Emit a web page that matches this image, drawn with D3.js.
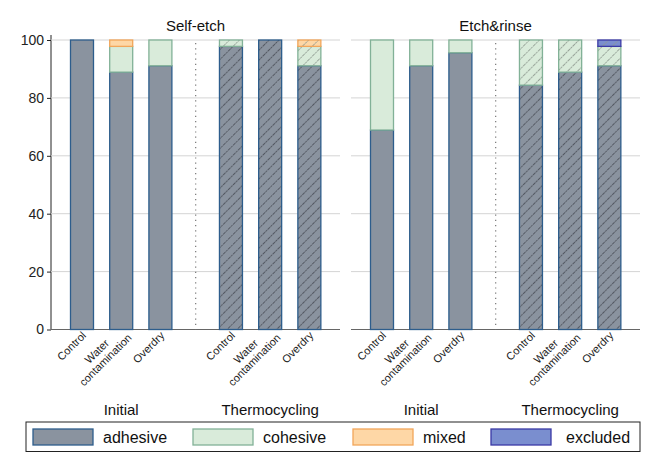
<!DOCTYPE html>
<html><head><meta charset="utf-8">
<script src="https://cdn.jsdelivr.net/npm/d3@7"></script>
<style>body{margin:0;background:#fff}svg{font-family:Arial,"Liberation Sans",sans-serif}</style>
</head><body><svg id="c" width="661" height="472"></svg>
<script>
const panels = ["Self-etch", "Etch&rinse"];
const phases = ["Initial", "Thermocycling"];
const groups = ["Control", "Water\ncontamination", "Overdry"];
const modes = ["adhesive", "cohesive", "mixed", "excluded"];
// values per panel, per phase, per group: [adhesive, cohesive, mixed, excluded] (%)
const selfEtchInitial = [[100, 0, 0, 0], [88.9, 8.9, 2.2, 0], [91.1, 8.9, 0, 0]];
const selfEtchThermo  = [[97.8, 2.2, 0, 0], [100, 0, 0, 0], [91.1, 6.7, 2.2, 0]];
const etchRinseInitial = [[68.9, 31.1, 0, 0], [91.1, 8.9, 0, 0], [95.6, 4.4, 0, 0]];
const etchRinseThermo  = [[84.4, 15.6, 0, 0], [88.9, 11.1, 0, 0], [91.1, 6.7, 0, 2.2]];
const yTicks = [0, 20, 40, 60, 80, 100];

const fills = {adhesive: "#8a939f", cohesive: "#d9ebda", mixed: "#fed7a6", excluded: "#7a8ecf"};
const strokes = {adhesive: "#2d5d8c", cohesive: "#82b197", mixed: "#f2a65a", excluded: "#3b3aa6"};

const data = [[selfEtchInitial, selfEtchThermo], [etchRinseInitial, etchRinseThermo]];

const svg = d3.select("#c");
const defs = svg.append("defs");
modes.forEach(m => {
  const p = defs.append("pattern").attr("id", "h-" + m).attr("patternUnits", "userSpaceOnUse")
    .attr("width", 7).attr("height", 7).attr("patternTransform", "rotate(45)");
  p.append("rect").attr("width", 7).attr("height", 7).attr("fill", fills[m]);
  p.append("line").attr("x1", 0).attr("y1", 0).attr("x2", 0).attr("y2", 7)
    .attr("stroke", m === "adhesive" ? "#4a4f58" : "#8e998f").attr("stroke-width", 2)
    .attr("stroke-dasharray", "2,0.7").attr("opacity", 0.85);
});

const y = d3.scaleLinear().domain([0, 100]).range([329.5, 40]);
const panelX = [51, 351];
const panelW = 289;
const slots = [0, 1, 2, 3.8, 4.8, 5.8];
const xs = d3.scaleLinear().domain([-31 / 39.2, (panelW - 31) / 39.2]).range([0, panelW]);
const barW = 23;

// y axis
const yAxis = svg.append("g").attr("transform", "translate(51,0)")
  .call(d3.axisLeft(y).tickValues(yTicks).tickSize(4).tickPadding(3));
yAxis.select(".domain").attr("d", "M0,35V329.5").attr("stroke", "#222");
yAxis.selectAll(".tick line").attr("stroke", "#222");
yAxis.selectAll(".tick text").attr("font-size", 14).attr("fill", "#222").attr("font-family", "Arial, 'Liberation Sans', sans-serif");

panels.forEach((pn, pi) => {
  const g = svg.append("g").attr("transform", `translate(${panelX[pi]},0)`);
  // grid
  g.selectAll(".grid").data(yTicks.filter(t => t > 0)).join("line")
    .attr("x1", 0).attr("x2", panelW).attr("y1", d => y(d)).attr("y2", d => y(d))
    .attr("stroke", "#d4d4d4").attr("stroke-width", 1);
  // x axis line
  g.append("line").attr("x1", 0).attr("x2", panelW).attr("y1", y(0)).attr("y2", y(0))
    .attr("stroke", "#666").attr("stroke-width", 1.2);
  // dotted separator
  const sepX = xs((slots[2] + slots[3]) / 2);
  g.append("line").attr("x1", sepX).attr("x2", sepX).attr("y1", y(100) + 3).attr("y2", y(0))
    .attr("stroke", "#777").attr("stroke-width", 1.2).attr("stroke-dasharray", "1.2,4");
  // title
  g.append("text").attr("x", panelW / 2).attr("y", 31).attr("text-anchor", "middle")
    .attr("font-size", 15).attr("fill", "#111").text(pn);

  data[pi].forEach((phaseData, phi) => {
    phaseData.forEach((vals, gi) => {
      const cx = xs(slots[phi * 3 + gi]);
      let acc = 0;
      vals.forEach((v, mi) => {
        if (v <= 0) return;
        const m = modes[mi];
        g.append("rect").attr("x", cx - barW / 2).attr("width", barW)
          .attr("y", y(acc + v)).attr("height", y(acc) - y(acc + v))
          .attr("fill", phi === 1 ? `url(#h-${m})` : fills[m])
          .attr("stroke", strokes[m]).attr("stroke-width", 1.3);
        acc += v;
      });
      // label
      const lines = groups[gi].split("\n");
      const t = g.append("text").attr("transform", `translate(${cx + 2},${y(0) + 4}) rotate(-45)`)
        .attr("font-size", 11).attr("fill", "#222");
      if (lines.length === 1) {
        t.attr("text-anchor", "end").attr("dy", "0.35em").text(lines[0]);
      } else {
        t.attr("text-anchor", "middle");
        const spans = lines.map((l, li) => t.append("tspan").attr("x", 0)
          .attr("dy", li === 0 ? "-0.2em" : "1.1em").text(l));
        const w = d3.max(spans, s => s.node().getComputedTextLength());
        spans.forEach(s => s.attr("x", -w / 2 + 3));
      }
    });
    const mid = (xs(slots[phi * 3]) + xs(slots[phi * 3 + 2])) / 2;
    g.append("text").attr("x", mid).attr("y", 415).attr("text-anchor", "middle")
      .attr("font-size", 15).attr("fill", "#111").text(phases[phi]);
  });
});

// legend
svg.append("rect").attr("x", 26).attr("y", 422).attr("width", 614).attr("height", 29.5)
  .attr("fill", "#fff").attr("stroke", "#222").attr("stroke-width", 1);
const legX = [33, 193, 353, 491];
const legTX = [103, 263, 423, 566];
modes.forEach((m, i) => {
  svg.append("rect").attr("x", legX[i]).attr("y", 429).attr("width", 60).attr("height", 16)
    .attr("fill", fills[m]).attr("stroke", strokes[m]).attr("stroke-width", 1.3);
  svg.append("text").attr("x", legTX[i]).attr("y", 443).attr("font-size", 16)
    .attr("fill", "#111").text(m);
});
</script></body></html>
